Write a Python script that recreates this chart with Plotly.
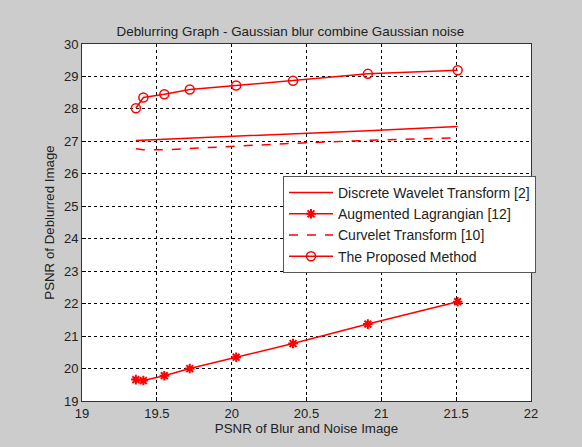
import plotly.graph_objects as go

# PSNR of the blurred + noisy input images
blur_psnr = [19.36, 19.41, 19.55, 19.72, 20.03, 20.41, 20.91, 21.51]

# PSNR of the deblurred results for each method
dwt = [27.03, 27.04, 27.06, 27.09, 27.14, 27.22, 27.33, 27.46]
aug_lagrangian = [19.66, 19.63, 19.78, 20.00, 20.35, 20.77, 21.37, 22.06]
curvelet = [26.77, 26.74, 26.74, 26.78, 26.86, 26.94, 27.03, 27.11]
proposed = [28.02, 28.35, 28.45, 28.60, 28.72, 28.87, 29.08, 29.19]

x_ticks = [19, 19.5, 20, 20.5, 21, 21.5, 22]
y_ticks = list(range(19, 31))

names = [
    "Discrete Wavelet Transform [2]",
    "Augmented Lagrangian [12]",
    "Curvelet Transform [10]",
    "The Proposed Method",
]

RED = "#ff0000"
W, H = 582, 447
L, R, T, B = 82, 51, 44, 46

fig = go.Figure()
fig.add_trace(go.Scatter(x=blur_psnr, y=dwt, mode="lines", name=names[0],
                         line=dict(color=RED, width=1.5)))
fig.add_trace(go.Scatter(x=blur_psnr, y=aug_lagrangian, mode="lines+markers", name=names[1],
                         line=dict(color=RED, width=1.5),
                         marker=dict(symbol="asterisk-open", size=8,
                                     line=dict(color=RED, width=2))))
fig.add_trace(go.Scatter(x=blur_psnr, y=curvelet, mode="lines", name=names[2],
                         line=dict(color=RED, width=1.5, dash="dash")))
fig.add_trace(go.Scatter(x=blur_psnr, y=proposed, mode="lines+markers", name=names[3],
                         line=dict(color=RED, width=1.5),
                         marker=dict(symbol="circle-open", size=9,
                                     line=dict(color=RED, width=1.5))))

pw, ph = W - L - R, H - T - B


def px(v):
    return (v - L) / pw


def py(v):
    return (H - B - v) / ph


axis_common = dict(
    showgrid=True, gridcolor="black", griddash="dot", gridwidth=1,
    showline=True, linecolor="#333333", linewidth=1, mirror=True,
    ticks="inside", ticklen=4, tickcolor="black",
    zeroline=False, tickfont=dict(size=13, color="#222222"),
)

fig.update_layout(
    width=W, height=H,
    margin=dict(l=L, r=R, t=T, b=B),
    paper_bgcolor="#cccccc", plot_bgcolor="white",
    font=dict(family="Liberation Sans, Arial, sans-serif", size=12, color="#222222"),
    title=dict(text="Deblurring Graph - Gaussian blur combine Gaussian noise",
               x=px(306), xanchor="center", y=1 - 31 / H, yanchor="middle",
               font=dict(size=13.4, color="#222222")),
    xaxis=dict(range=[19, 22], tickvals=x_ticks, ticktext=[f"{v:g}" for v in x_ticks],
               title=dict(text="PSNR of Blur and Noise Image", standoff=4, font=dict(size=13.3)),
               **axis_common),
    yaxis=dict(range=[19, 30], tickvals=y_ticks,
               title=dict(text="PSNR of Deblurred Image", standoff=6, font=dict(size=13.3)),
               **axis_common),
    legend=dict(x=px(283), y=py(176), xanchor="left", yanchor="top",
                bgcolor="white", bordercolor="#555555", borderwidth=1,
                font=dict(size=14, color="#222222"), tracegroupgap=0,
                itemwidth=44),
    showlegend=True,
)

fig.write_html("out.html")
